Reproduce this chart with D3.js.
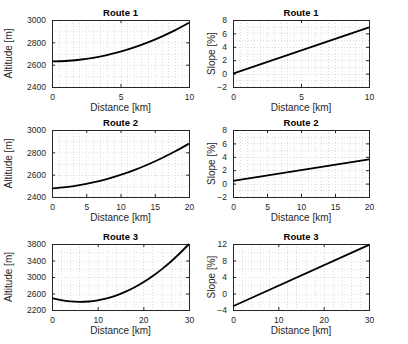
<!DOCTYPE html>
<html>
<head>
<meta charset="utf-8">
<script src="https://cdn.jsdelivr.net/npm/d3@7"></script>
<style>
  body { margin: 0; background: #fff; }
  svg { display: block; font-family: "Liberation Sans", Arial, sans-serif; }
</style>
</head>
<body>
<svg id="chart" width="408" height="344"></svg>
<script>
// Route titles
const routeNames = ['Route 1', 'Route 2', 'Route 3'];

// Altitude profiles (distance in km, altitude in m)
const route1Dist = [0, 1, 2, 3, 4, 5, 6, 7, 8, 9, 10];
const route1Alt = [2630, 2633, 2644, 2661, 2685, 2716, 2754, 2799, 2851, 2909, 2975];
const route2Dist = [0, 2, 4, 6, 8, 10, 12, 14, 16, 18, 20];
const route2Alt = [2478, 2489, 2507, 2531, 2561, 2598, 2641, 2691, 2747, 2809, 2878];
const route3Dist = [0, 2, 4, 6, 8, 10, 12, 14, 16, 18, 20, 22, 24, 26, 28, 30];
const route3Alt = [2488, 2438, 2408, 2397, 2406, 2435, 2482, 2550, 2638, 2745, 2872, 3018, 3185, 3370, 3576, 3800];

// Slope profiles (distance in km, slope in %)
const route1SlopeDist = [0, 10];
const route1Slope = [0, 6.9];
const route2SlopeDist = [0, 20];
const route2Slope = [0.4, 3.6];
const route3SlopeDist = [0, 30];
const route3Slope = [-3.1, 11.8];

// Tick labels
const distTicks1 = [0, 5, 10];
const distTicks2 = [0, 5, 10, 15, 20];
const distTicks3 = [0, 10, 20, 30];
const altTicks12 = [2400, 2600, 2800, 3000];
const altTicks3 = [2200, 2600, 3000, 3400, 3800];
const slopeTicks12 = [-2, 0, 2, 4, 6, 8];
const slopeTicks3 = [-4, 0, 4, 8, 12];

// Minor grid steps
const distMinor = [0.5, 1, 2];
const altMinor = [100, 100, 200];
const slopeMinor = [1, 1, 2];

const svg = d3.select('#chart');
const rowTop = [20, 130, 244];
const rowH = [67, 67, 66];
const colLeft = [52, 233];
const colW = [137, 136];
const ylabX = [9, 212];

const textColor = '#262626';
const fmt = d3.format('d');

const panels = [
    { row: 0, col: 0, x: route1Dist, y: route1Alt, xt: distTicks1, yt: altTicks12, xm: distMinor[0], ym: altMinor[0], ylab: 'Altitude [m]' },
    { row: 0, col: 1, x: route1SlopeDist, y: route1Slope, xt: distTicks1, yt: slopeTicks12, xm: distMinor[0], ym: slopeMinor[0], ylab: 'Slope [%]' },
    { row: 1, col: 0, x: route2Dist, y: route2Alt, xt: distTicks2, yt: altTicks12, xm: distMinor[1], ym: altMinor[1], ylab: 'Altitude [m]' },
    { row: 1, col: 1, x: route2SlopeDist, y: route2Slope, xt: distTicks2, yt: slopeTicks12, xm: distMinor[1], ym: slopeMinor[1], ylab: 'Slope [%]' },
    { row: 2, col: 0, x: route3Dist, y: route3Alt, xt: distTicks3, yt: altTicks3, xm: distMinor[2], ym: altMinor[2], ylab: 'Altitude [m]' },
    { row: 2, col: 1, x: route3SlopeDist, y: route3Slope, xt: distTicks3, yt: slopeTicks3, xm: distMinor[2], ym: slopeMinor[2], ylab: 'Slope [%]' }
];

panels.forEach(p => {
    const left = colLeft[p.col];
    const top = rowTop[p.row];
    const w = colW[p.col];
    const h = rowH[p.row];
    const xd = d3.extent(p.xt);
    const yd = d3.extent(p.yt);

    const xScale = d3.scaleLinear().domain(xd).range([0, w]);
    const yScale = d3.scaleLinear().domain(yd).range([h, 0]);

    const g = svg.append('g').attr('transform', `translate(${left}, ${top})`);

    // Minor dotted grid
    const xGrid = d3.range(xd[0], xd[1] + 1e-9, p.xm);
    const yGrid = d3.range(yd[0], yd[1] + 1e-9, p.ym);
    g.selectAll('.vgrid').data(xGrid).enter().append('line')
        .attr('x1', d => Math.round(xScale(d)) + 0.5).attr('x2', d => Math.round(xScale(d)) + 0.5)
        .attr('y1', 0).attr('y2', h)
        .attr('stroke', '#dcdcdc').attr('stroke-width', 1).attr('stroke-dasharray', '1,2');
    g.selectAll('.hgrid').data(yGrid).enter().append('line')
        .attr('y1', d => Math.round(yScale(d)) + 0.5).attr('y2', d => Math.round(yScale(d)) + 0.5)
        .attr('x1', 0).attr('x2', w)
        .attr('stroke', '#dcdcdc').attr('stroke-width', 1).attr('stroke-dasharray', '1,2');

    // Axes with inward ticks on all sides
    const styleAxis = sel => {
        sel.select('.domain').remove();
        sel.selectAll('line').attr('stroke', textColor);
        sel.selectAll('text').attr('fill', textColor).style('font-size', '8.5px');
    };
    g.append('g').attr('transform', `translate(0, ${h})`)
        .call(d3.axisBottom(xScale).tickValues(p.xt).tickSize(-3).tickPadding(7).tickFormat(fmt))
        .call(styleAxis);
    g.append('g')
        .call(d3.axisTop(xScale).tickValues(p.xt).tickSize(-3).tickFormat(''))
        .call(styleAxis);
    g.append('g')
        .call(d3.axisLeft(yScale).tickValues(p.yt).tickSize(-3).tickPadding(6).tickFormat(fmt))
        .call(styleAxis);
    g.append('g').attr('transform', `translate(${w}, 0)`)
        .call(d3.axisRight(yScale).tickValues(p.yt).tickSize(-3).tickFormat(''))
        .call(styleAxis);

    // Box
    g.append('rect')
        .attr('x', 0.5).attr('y', 0.5).attr('width', w).attr('height', h)
        .attr('fill', 'none').attr('stroke', textColor).attr('stroke-width', 1);

    // Data line
    const pts = p.x.map((d, i) => [d, p.y[i]]);
    g.append('path')
        .datum(pts)
        .attr('fill', 'none')
        .attr('stroke', '#000')
        .attr('stroke-width', 1.8)
        .attr('d', d3.line().x(d => xScale(d[0])).y(d => yScale(d[1])).curve(d3.curveMonotoneX));

    // Title
    g.append('text')
        .attr('x', w / 2).attr('y', -4)
        .attr('text-anchor', 'middle')
        .style('font-size', '9.5px').style('font-weight', 'bold')
        .attr('fill', '#000')
        .text(routeNames[p.row]);

    // X label
    g.append('text')
        .attr('x', w / 2).attr('y', h + 24)
        .attr('text-anchor', 'middle')
        .style('font-size', '10px')
        .attr('fill', textColor)
        .text('Distance [km]');

    // Y label
    g.append('text')
        .attr('transform', `translate(${ylabX[p.col] - left + 3}, ${h / 2}) rotate(-90)`)
        .attr('text-anchor', 'middle')
        .style('font-size', '10px')
        .attr('fill', textColor)
        .text(p.ylab);
});
</script>
</body>
</html>
